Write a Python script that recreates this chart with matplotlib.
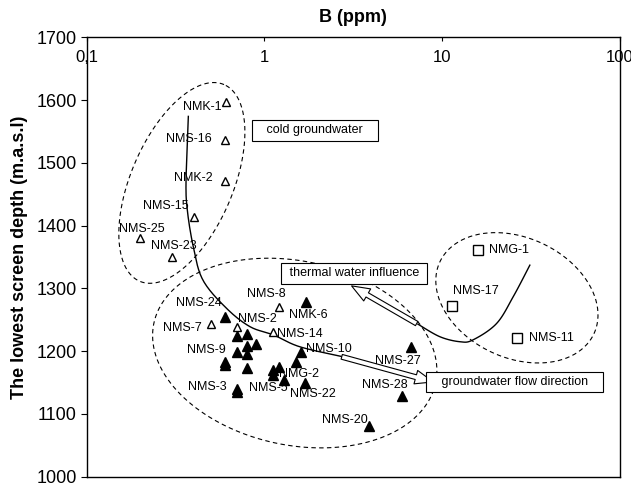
import numpy as np
import matplotlib
matplotlib.use('Agg')
import matplotlib.pyplot as plt
from matplotlib.ticker import FixedLocator, NullLocator

plt.rcParams['font.family'] = ['Liberation Sans', 'DejaVu Sans']

# open triangles (cold groundwater + a few shallow wells)
open_name = ['NMK-1', 'NMS-16', 'NMK-2', 'NMS-15', 'NMS-25', 'NMS-23', 'NMS-7', 'NMS-2', 'NMS-8', 'NMS-14']
open_b = [0.61, 0.60, 0.60, 0.40, 0.20, 0.30, 0.50, 0.70, 1.21, 1.11]
open_depth = [1597, 1537, 1471, 1414, 1380, 1350, 1243, 1239, 1270, 1230]

# filled triangles
fill_b = [0.60, 1.71, 0.70, 0.80, 0.80, 0.90, 0.70, 0.80, 0.60, 0.60, 0.80, 0.70, 0.70,
          1.60, 1.50, 1.11, 1.21, 1.11, 1.29, 1.70, 3.88, 6.67, 5.96]
fill_depth = [1254, 1278, 1224, 1227, 1208, 1211, 1198, 1195, 1182, 1178, 1173, 1140, 1135,
              1198, 1183, 1170, 1174, 1162, 1154, 1149, 1080, 1206, 1129]

# squares (thermal)
sq_name = ['NMG-1', 'NMS-17', 'NMS-11']
sq_b = [15.9, 11.4, 26.5]
sq_depth = [1361, 1272, 1221]

# labels: text, series, index, ha, dx, dy (pixels)
labels = [
    ('NMK-1', 'o', 0, 'right', -5, -5),
    ('NMS-16', 'o', 1, 'right', -13, 1),
    ('NMK-2', 'o', 2, 'right', -12, 3),
    ('NMS-15', 'o', 3, 'right', -5, 11),
    ('NMS-25', 'o', 4, 'center', 2, 9),
    ('NMS-23', 'o', 5, 'center', 2, 11),
    ('NMS-7', 'o', 6, 'right', -9, -4),
    ('NMS-2', 'o', 7, 'left', 1, 8),
    ('NMS-8', 'o', 8, 'center', -13, 13),
    ('NMS-14', 'o', 9, 'left', 4, -2),
    ('NMS-24', 'f', 0, 'right', -3, 14),
    ('NMK-6', 'f', 1, 'left', -17, -13),
    ('NMS-9', 'f', 6, 'right', -11, 2),
    ('NMS-3', 'f', 11, 'right', -10, 2),
    ('NMS-10', 'f', 13, 'left', 5, 3),
    ('NMG-2', 'f', 17, 'left', 6, 1),
    ('NMS-5', 'f', 17, 'center', -4, -13),
    ('NMS-22', 'f', 19, 'center', 7, -11),
    ('NMS-20', 'f', 20, 'right', -1, 6),
    ('NMS-27', 'f', 21, 'center', -13, -14),
    ('NMS-28', 'f', 22, 'center', -17, 11),
    ('NMG-1', 's', 0, 'left', 11, 0),
    ('NMS-17', 's', 1, 'center', 24, 15),
    ('NMS-11', 's', 2, 'left', 12, 0),
]

# hand drawn trend curves
curve1_b = [0.373, 0.362, 0.368, 0.398, 0.451, 0.613, 0.829, 1.12, 1.58, 2.77]
curve1_d = [1574, 1473, 1425, 1366, 1313, 1268, 1239, 1226, 1207, 1191]
curve2_b = [31.1, 25.1, 20.2, 14.9, 12.6, 9.7, 7.3]
curve2_d = [1337, 1287, 1244, 1218, 1215, 1223, 1243]


def smooth(xs, ys, n=15):
    p = np.column_stack([np.log10(xs), ys])
    p = np.vstack([p[0], p, p[-1]])
    out = []
    for i in range(1, len(p) - 2):
        p0, p1, p2, p3 = p[i - 1], p[i], p[i + 1], p[i + 2]
        for t in np.linspace(0, 1, n, endpoint=False):
            out.append(0.5 * (2 * p1 + (-p0 + p2) * t + (2 * p0 - 5 * p1 + 4 * p2 - p3) * t ** 2
                              + (-p0 + 3 * p1 - 3 * p2 + p3) * t ** 3))
    out.append(p[-2])
    out = np.array(out)
    return 10 ** out[:, 0], out[:, 1]


def dashed_ellipse(ax, cb, cd, a, b, ang):
    cx, cy = ax.transData.transform((cb, cd))
    t = np.linspace(0, 2 * np.pi, 300)
    th = np.radians(ang)
    px = cx + a * np.cos(t) * np.cos(th) - b * np.sin(t) * np.sin(th)
    py = cy + a * np.cos(t) * np.sin(th) + b * np.sin(t) * np.cos(th)
    pts = ax.transData.inverted().transform(np.column_stack([px, py]))
    ax.plot(pts[:, 0], pts[:, 1], color='k', lw=0.8, dashes=(4, 3))


fig = plt.figure(figsize=(6.31, 4.86), dpi=100)
ax = fig.add_axes([0.1374, 0.0191, 0.8452, 0.9042])
ax.set_xscale('log')
ax.set_xlim(0.1, 100)
ax.set_ylim(1000, 1700)

ax.xaxis.tick_top()
ax.xaxis.set_major_locator(FixedLocator([0.1, 1, 10, 100]))
ax.xaxis.set_minor_locator(NullLocator())
ax.set_xticklabels(['0,1', '1', '10', '100'])
ax.tick_params(axis='x', direction='in', length=3, pad=-20, labelsize=12)
ax.set_yticks(np.arange(1000, 1701, 100))
ax.tick_params(axis='y', direction='out', length=4, pad=3, labelsize=13)
for s in ax.spines.values():
    s.set_linewidth(1.0)

ax.set_ylabel('The lowest screen depth (m.a.s.l)', fontsize=13, fontweight='bold', labelpad=6)
ax.text(0.5, 1.044, 'B (ppm)', transform=ax.transAxes, ha='center', va='center',
        fontsize=13, fontweight='bold')

dashed_ellipse(ax, 0.343, 1468, 107, 51, 66.8)
dashed_ellipse(ax, 1.48, 1197, 144, 92, -12)
dashed_ellipse(ax, 26.3, 1285, 85, 60, -25)

x1, y1 = smooth(curve1_b, curve1_d)
ax.plot(x1, y1, color='k', lw=1)
x2, y2 = smooth(curve2_b, curve2_d)
ax.plot(x2, y2, color='k', lw=1)

arrow = dict(arrowstyle='simple,head_length=1.3,head_width=1.0,tail_width=0.35',
             fc='white', ec='k', lw=0.8, shrinkA=0, shrinkB=0, mutation_scale=10)
ax.annotate('', xy=(3.09, 1304), xytext=(7.18, 1244), arrowprops=arrow)
ax.annotate('', xy=(8.9, 1151), xytext=(2.72, 1191), arrowprops=arrow)

ax.plot(fill_b, fill_depth, '^', color='k', ms=6.5, ls='none')
ax.plot(open_b, open_depth, '^', mfc='white', mec='k', mew=1, ms=6, ls='none')
ax.plot(sq_b, sq_depth, 's', mfc='white', mec='k', mew=1, ms=7.5, ls='none')

series = {'o': (open_b, open_depth), 'f': (fill_b, fill_depth), 's': (sq_b, sq_depth)}
for txt, ser, i, ha, dx, dy in labels:
    xs, ys = series[ser]
    ax.annotate(txt, xy=(xs[i], ys[i]), xytext=(dx, dy), textcoords='offset pixels',
                ha=ha, va='center', fontsize=9)

box = dict(boxstyle='square,pad=0.35', fc='white', ec='k', lw=0.8)
ax.text(1.915, 1552, '   cold groundwater   ', ha='center', va='center', fontsize=9, bbox=box)
ax.text(3.19, 1324, ' thermal water influence ', ha='center', va='center', fontsize=9, bbox=box)
ax.text(25.5, 1151, '   groundwater flow direction   ', ha='center', va='center', fontsize=9, bbox=box)

fig.savefig('out.png', dpi=100)
